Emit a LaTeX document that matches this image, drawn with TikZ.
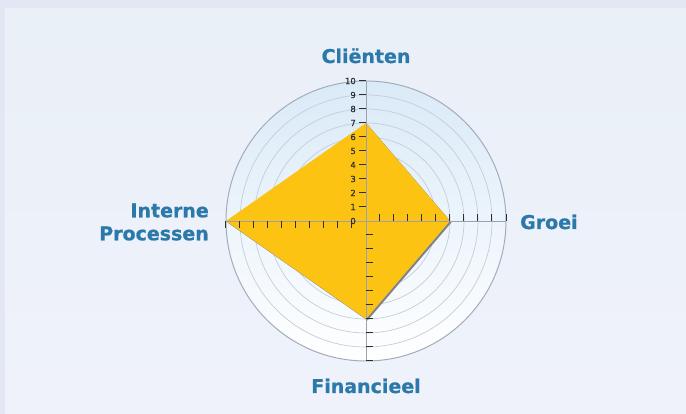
\documentclass[tikz,border=0pt]{standalone}
\usepackage{fontspec}
\setmainfont{DejaVu Sans}
\newfontfamily\labelfont[FakeBold=0.7]{DejaVu Sans Bold}
\newfontfamily\numfont[FakeBold=0.6]{DejaVu Sans}
\usetikzlibrary{positioning}

\definecolor{bgouter}{HTML}{E3E7F3}
\definecolor{paneltop}{HTML}{EAF0F8}
\definecolor{panelbot}{HTML}{EFF2FA}
\definecolor{disctop}{HTML}{DAEAF7}
\definecolor{ringgrey}{HTML}{C6CCDA}
\definecolor{outerring}{HTML}{A4ABBC}
\definecolor{axisgrey}{HTML}{9CA1AD}
\definecolor{tickgrey}{HTML}{2A2E35}
\definecolor{scoreyellow}{HTML}{FCC313}
\definecolor{shadowgrey}{HTML}{7E828C}
\definecolor{labelblue}{HTML}{2A79AA}

\begin{document}
\begin{tikzpicture}[x=14pt,y=14pt]
    \newcommand{\ringrad}{10} % radius of the outer ring
    \newcommand{\ticklen}{7pt} % length of the tick marks

    % set the styles of the chart
    \tikzset{
        axislabel/.style={
            font=\labelfont\fontsize{19}{23}\selectfont,
            text=labelblue,
            inner sep=0pt
            },
        ticknum/.style={
            font=\numfont\fontsize{8.5}{9}\selectfont,
            text=tickgrey,
            inner sep=0pt
            },
        ring/.style={draw=ringgrey, line width=0.7pt},
        axisline/.style={draw=axisgrey, line width=0.6pt},
        tickmark/.style={draw=tickgrey, line width=1pt}
    }

    % background
    \useasboundingbox (-366pt,-193pt) rectangle (320pt,221pt);
    \fill[bgouter] (-366pt,-193pt) rectangle (320pt,221pt);
    \shade[top color=paneltop, bottom color=panelbot] (-361pt,-193pt) rectangle (320pt,212pt);

    % disc and rings
    \shade[top color=disctop, bottom color=white] (0,0) circle (\ringrad);
    \foreach \r in {1,...,9} \draw[ring] (0,0) circle (\r);
    \draw[ring, draw=outerring, line width=1pt] (0,0) circle (\ringrad);

    % scores
    \fill[shadowgrey, shift={(1.5pt,-1.5pt)}] (0,7) -- (6,0) -- (0,-7) -- (-10,0) -- cycle;
    \fill[scoreyellow] (0,7) -- (6,0) -- (0,-7) -- (-10,0) -- cycle;

    % axes
    \draw[axisline] (-\ringrad,0) -- (\ringrad,0);
    \draw[axisline] (0,-\ringrad) -- (0,\ringrad);

    % ticks
    \foreach \r in {1,...,10} {
        \draw[tickmark] (0,\r) -- ++(-\ticklen,0);
        \draw[tickmark] (\r,0) -- ++(0,\ticklen);
        \draw[tickmark] (0,-\r) -- ++(\ticklen,0);
        \draw[tickmark] (-\r,0) -- ++(0,-\ticklen);
    }
    % numbers
    \foreach \r in {0,...,10}
        \node[ticknum, anchor=east] (num\r) at ([xshift=-10pt]0,\r) {\r};

    % axis labels
    \node[axislabel, anchor=base] (clienten) at (0pt,158pt) {Cliënten};
    \node[axislabel, anchor=base west] (groei) at (154pt,-8pt) {Groei};
    \node[axislabel, anchor=east, align=right] (interne) at (-157pt,-1pt) {Interne\\Processen};
    \node[axislabel, anchor=base] (financieel) at (0pt,-172pt) {Financieel};
\end{tikzpicture}
\end{document}
